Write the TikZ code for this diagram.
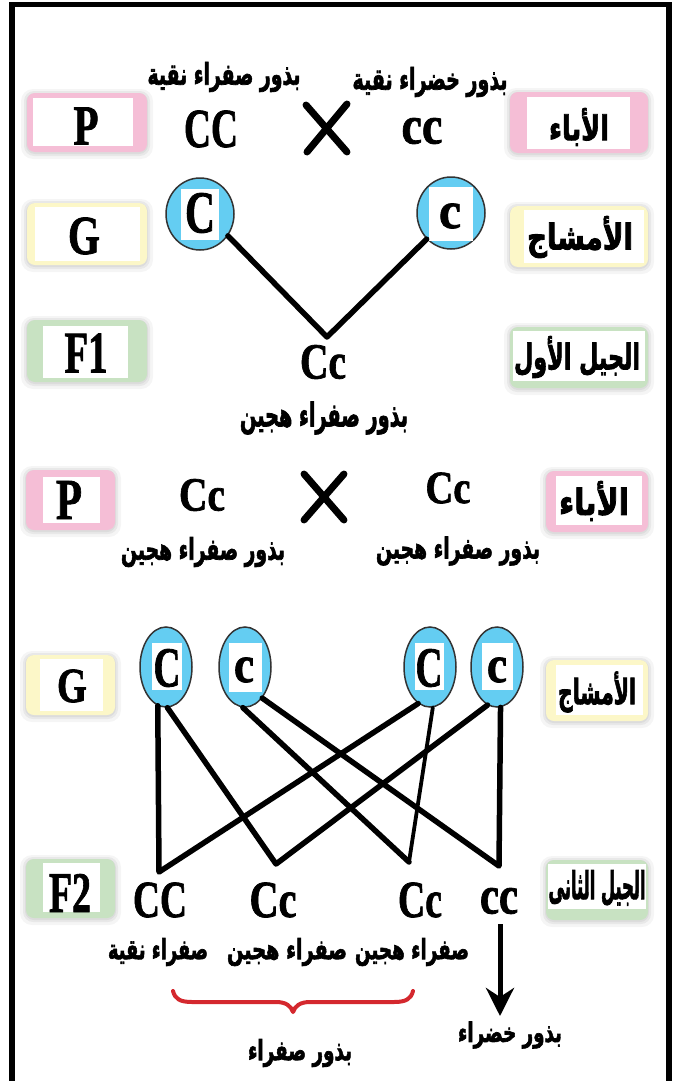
\documentclass[tikz,border=0pt]{standalone}
\usepackage{graphicx}
\usepackage{fontspec}
\usetikzlibrary{shapes.geometric,arrows.meta}
\TeXXeTstate=1
\newfontfamily\arabicfont[Script=Arabic,BoldFeatures={FakeBold=2.5}]{DejaVu Sans}
\newfontfamily\latinfont[BoldFeatures={FakeBold=1.5}]{Liberation Serif}
\definecolor{boxpink}{RGB}{245,190,214}
\definecolor{boxyellow}{RGB}{252,247,200}
\definecolor{boxgreen}{RGB}{200,226,194}
\definecolor{gamblue}{RGB}{100,205,242}
\definecolor{bracered}{RGB}{212,40,46}
\newcommand{\artx}[3]{\resizebox*{#1pt}{#2pt}{\arabicfont\bfseries #3}}
\newcommand{\lattx}[3]{\resizebox*{#1pt}{#2pt}{\latinfont\bfseries #3}}
\newcommand{\lbox}[9]{%
  \fill[black,opacity=0.04,rounded corners=12pt] (#1-6,#2-4) rectangle (#3+6,#4+7);
  \fill[black,opacity=0.05,rounded corners=10pt] (#1-3,#2-2) rectangle (#3+3,#4+4);
  \fill[black,opacity=0.05,rounded corners=9pt] (#1-1,#2) rectangle (#3+1,#4+2);
  \fill[#9,rounded corners=8pt] (#1,#2) rectangle (#3,#4);
  \fill[white] (#5,#6) rectangle (#7,#8);}
\tikzset{
  txt/.style={inner sep=0pt,outer sep=0pt},
  gamete/.style={ellipse,draw=black!80,line width=1.5pt,fill=gamblue,inner sep=0pt},
  bigg/.style={gamete,minimum width=68pt,minimum height=72pt},
  smallg/.style={gamete,minimum width=52pt,minimum height=80pt},
  link/.style={line width=5.5pt,line cap=round,line join=round},
  thinlink/.style={line width=3.8pt,line cap=round,line join=round},
  crossline/.style={line width=7pt,line cap=round},
  frameline/.style={line width=5.5pt},
  bracestyle/.style={draw=bracered,line width=4pt,line cap=round,line join=round},
  arrowstyle/.style={line width=5pt,-{Stealth[length=28pt,width=28pt,inset=9pt]}}
}
\begin{document}
\begin{tikzpicture}[x=1pt,y=-1pt]
\useasboundingbox[fill=white] (0,0) rectangle (674,1081);
% frame
\draw[frameline] (12,1090) -- (12,4.5) -- (669,4.5) -- (669,1090);

% ---------- label boxes ----------
\lbox{27}{93}{147}{152}{33}{98}{133}{146}{boxpink}
\lbox{27}{203}{147}{265}{35}{207}{140}{261}{boxyellow}
\lbox{27}{320}{147}{382}{43}{326}{128}{378}{boxgreen}
\lbox{510}{92}{648}{153}{527}{97}{630}{149}{boxpink}
\lbox{510}{206}{648}{267}{524}{210}{644}{263}{boxyellow}
\lbox{510}{327}{648}{388}{513}{331}{645}{381}{boxgreen}
\lbox{26}{470}{115}{530}{43}{477}{100}{523}{boxpink}
\lbox{26}{655}{115}{715}{40}{659}{103}{711}{boxyellow}
\lbox{26}{859}{115}{918}{43}{863}{100}{912}{boxgreen}
\lbox{546}{471}{648}{532}{556}{476}{642}{525}{boxpink}
\lbox{546}{660}{648}{721}{556}{665}{643}{715}{boxyellow}
\lbox{546}{860}{648}{920}{548}{864}{646}{909}{boxgreen}

\node[txt] (lP1) at (86,126) {\lattx{25}{37}{P}};
\node[txt] (lG1) at (84,236) {\lattx{32}{37}{G}};
\node[txt] (lF1) at (86,353) {\lattx{43}{39}{F1}};
\node[txt] (lA1) at (579,127) {\artx{60}{38}{\beginR الأباء\endR}};
\node[txt] (lM1) at (580,237) {\artx{106}{42}{\beginR الأمشاج\endR}};
\node[txt] (lJ1) at (577,357) {\artx{126}{42}{\beginR الجيل الأول\endR}};
\node[txt] (lP2) at (69,500) {\lattx{26}{38}{P}};
\node[txt] (lG2) at (72,686) {\lattx{30}{33}{G}};
\node[txt] (lF2) at (70,893) {\lattx{42}{38}{F2}};
\node[txt] (lA2) at (594,501) {\artx{70}{40}{\beginR الأباء\endR}};
\node[txt] (lM2) at (597,692) {\artx{78}{41}{\beginR الأمشاج\endR}};
\node[txt] (lJ2) at (597,888) {\artx{97}{36}{\beginR الجيل الثانى\endR}};

% ---------- first cross ----------
\node[txt] (yp) at (224,77) {\artx{153}{30}{\beginR بذور صفراء نقية\endR}};
\node[txt] (gp) at (430,82) {\artx{155}{30}{\beginR بذور خضراء نقية\endR}};
\node[txt] (CCp) at (211,129) {\lattx{54}{37}{CC}};
\node[txt] (ccp) at (422,131) {\lattx{41}{26}{cc}};
\draw[crossline] (306,105) -- (347,152) (347,104) -- (307,152);

\node[bigg] (gC) at (200,214) {};
\fill[white] (181,189) rectangle (219,240);
\node[txt] (gCl) at (200,213) {\lattx{30}{40}{C}};
\node[bigg] (gc) at (451,213) {};
\fill[white] (429,187) rectangle (473,241);
\node[txt] (gcl) at (450,216) {\lattx{22}{25}{c}};

\coordinate (f1apex) at (327,337);
\draw[link] (gC.322) -- (f1apex) -- (gc.227);

\node[txt] (Cc1) at (323,362) {\lattx{46}{34}{Cc}};
\node[txt] (hyb1) at (324,418) {\artx{168}{33}{\beginR بذور صفراء هجين\endR}};

% ---------- second cross ----------
\node[txt] (CcL) at (202,495) {\lattx{46}{32}{Cc}};
\draw[crossline] (304,474) -- (344,520) (344,474) -- (304,520);
\node[txt] (CcR) at (448,488) {\lattx{45}{31}{Cc}};
\node[txt] (hybL) at (203,552) {\artx{164}{30}{\beginR بذور صفراء هجين\endR}};
\node[txt] (hybR) at (458,551) {\artx{164}{29}{\beginR بذور صفراء هجين\endR}};

\node[smallg] (E1) at (166,667) {};
\node[smallg] (E2) at (245,667) {};
\node[smallg] (E3) at (430,667) {};
\node[smallg] (E4) at (497,667) {};
\fill[white] (152,643) rectangle (182,690);
\fill[white] (229,643) rectangle (262,692);
\fill[white] (415,643) rectangle (444,690);
\fill[white] (482,643) rectangle (513,690);
\node[txt] (E1l) at (167,668) {\lattx{27}{38}{C}};
\node[txt] (E2l) at (244,670) {\lattx{20}{25}{c}};
\node[txt] (E3l) at (429,668) {\lattx{27}{38}{C}};
\node[txt] (E4l) at (497,670) {\lattx{20}{25}{c}};

\coordinate (aCC) at (159,872);
\coordinate (aCc1) at (276,864);
\coordinate (aCc2) at (409,862);
\coordinate (acc) at (499,866);
\draw[link] (E1.258) -- (aCC) -- (E3.252);
\draw[link] (E1.272) -- (aCc1) -- (E4.256);
\draw[link] (E2.267) -- (aCc2);
\draw[thinlink] (aCc2) -- (E3.274);
\draw[link] (E2.299) -- (acc) -- (E4.275);

\node[txt] (F2CC) at (160,900) {\lattx{54}{35}{CC}};
\node[txt] (F2Cc1) at (273,900) {\lattx{47}{35}{Cc}};
\node[txt] (F2Cc2) at (420,900) {\lattx{44}{35}{Cc}};
\node[txt] (F2cc) at (499,901) {\lattx{38}{26}{cc}};

\node[txt] (ph1) at (158,952) {\artx{100}{28}{\beginR صفراء نقية\endR}};
\node[txt] (ph2) at (287,952) {\artx{120}{28}{\beginR صفراء هجين\endR}};
\node[txt] (ph3) at (412,952) {\artx{114}{28}{\beginR صفراء هجين\endR}};

\draw[bracestyle] (173,991) .. controls (175,999) and (180,1002) .. (192,1002) -- (276,1002)
  .. controls (286,1002) and (291,1006) .. (293,1012)
  .. controls (295,1006) and (300,1002) .. (310,1002) -- (394,1002)
  .. controls (406,1002) and (411,999) .. (413,991);

\coordinate (arrS) at (500,924);
\coordinate (arrE) at (500,1016);
\draw[arrowstyle] (arrS) -- (arrE);

\node[txt] (greenS) at (510,1035) {\artx{104}{27}{\beginR بذور خضراء\endR}};
\node[txt] (yellowS) at (300,1053) {\artx{104}{28}{\beginR بذور صفراء\endR}};
\end{tikzpicture}
\end{document}
